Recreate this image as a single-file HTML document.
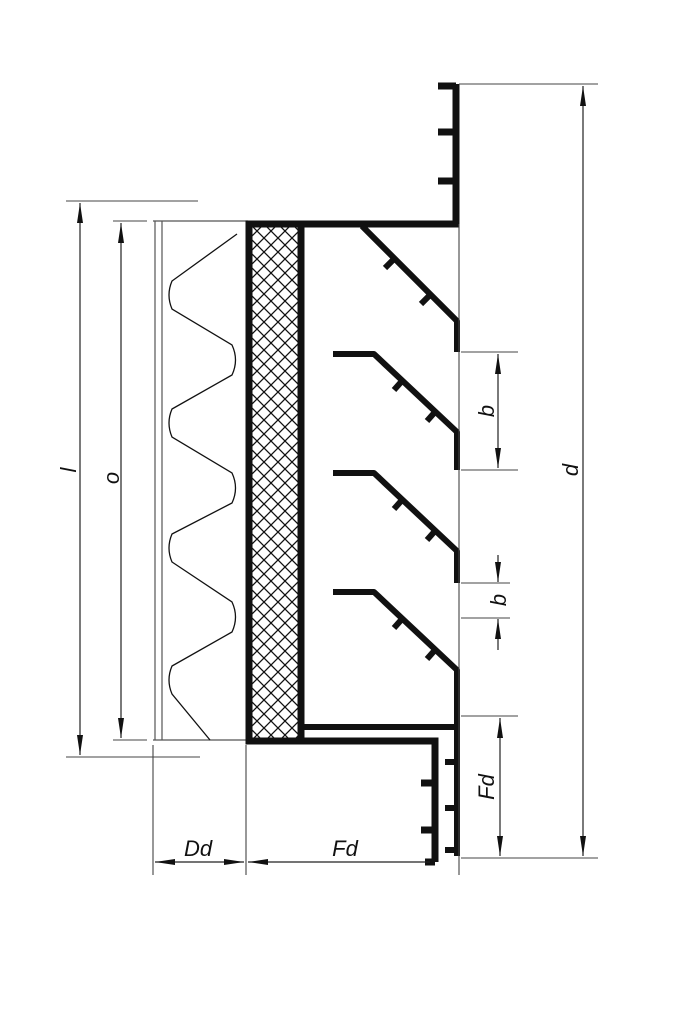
<!DOCTYPE html>
<html><head><meta charset="utf-8"><style>html,body{margin:0;padding:0;background:#fff}svg{display:block}</style></head>
<body>
<svg width="683" height="1024" viewBox="0 0 683 1024" xmlns="http://www.w3.org/2000/svg">
<defs>
<pattern id="h" width="14" height="14" patternUnits="userSpaceOnUse" x="250" y="224">
<path d="M0,0 L14,14 M14,0 L0,14" stroke="#111" stroke-width="1.3"/>
</pattern>
<marker id="a" viewBox="0 0 20 8" refX="20" refY="4" markerWidth="20" markerHeight="8" markerUnits="userSpaceOnUse" orient="auto-start-reverse">
<path d="M0,1 L20,4 L0,7 Z" fill="#111"/>
</marker>
</defs>
<g fill="none" stroke="#111">
<!-- hatched panel -->
<rect x="251" y="225" width="50" height="515" fill="url(#h)" stroke="none"/>
<!-- filter -->
<g stroke="#555" stroke-width="1.2">
<line x1="155" y1="221" x2="155" y2="740"/>
<line x1="162" y1="221" x2="162" y2="740"/>
<line x1="153" y1="221" x2="248" y2="221"/>
<line x1="153" y1="740" x2="248" y2="740"/>
</g>
<path stroke-width="1.3" d="M237,234 L172,281 Q166,295 172,309 L232,345 Q239,360 232,375 L172,409 Q166,423 172,437 L232,473 Q239,488 232,503 L172,534 Q166,548 172,562 L232,602 Q239,617 232,632 L172,666 Q166,680 172,694 L210,740"/>
<!-- thick frame -->
<g stroke-width="7" stroke-linecap="square">
<line x1="249" y1="224" x2="249" y2="741"/>
<line x1="301" y1="224" x2="301" y2="741"/>
<polyline points="249,224 456,224 456,84" stroke-linecap="butt"/>
<polyline points="249,741 435,741 435,862" stroke-linecap="butt"/>
<line x1="438" y1="86" x2="456" y2="86" stroke-linecap="butt"/>
<line x1="438" y1="132" x2="453" y2="132" stroke-linecap="butt"/>
<line x1="438" y1="181" x2="453" y2="181" stroke-linecap="butt"/>
<line x1="425" y1="862" x2="435" y2="862" stroke-linecap="butt"/>
<line x1="421" y1="783" x2="433" y2="783" stroke-linecap="butt"/>
<line x1="421" y1="830" x2="433" y2="830" stroke-linecap="butt"/>
</g>
<g stroke-width="6">
<line x1="301" y1="727" x2="460" y2="727"/>
<polyline points="457,670 457,856"/>
<line x1="445" y1="762" x2="457" y2="762"/>
<line x1="445" y1="808" x2="457" y2="808"/>
<line x1="445" y1="850" x2="457" y2="850"/>
</g>
<!-- louvers -->
<g stroke-width="6" stroke-linejoin="round">
<polyline points="362,226 457,321 457,352"/>
<polyline points="333,354 374,354 457,432 457,470"/>
<polyline points="333,473 374,473 457,551 457,583"/>
<polyline points="333,592 374,592 457,670 457,700"/>
</g>
<g stroke-width="6">
<line x1="394" y1="259" x2="385" y2="268"/><line x1="430" y1="295" x2="421" y2="304"/>
<line x1="402" y1="381" x2="394" y2="390"/><line x1="435" y1="412" x2="427" y2="421"/>
<line x1="402" y1="500" x2="394" y2="509"/><line x1="435" y1="531" x2="427" y2="540"/>
<line x1="402" y1="619" x2="394" y2="628"/><line x1="435" y1="650" x2="427" y2="659"/>
</g>
<!-- dimension lines -->
<g stroke="#444" stroke-width="1.1">
<line x1="459" y1="224" x2="459" y2="875"/>
<line x1="459" y1="84" x2="598" y2="84"/>
<line x1="461" y1="858" x2="598" y2="858"/>
<line x1="461" y1="352" x2="518" y2="352"/>
<line x1="461" y1="470" x2="518" y2="470"/>
<line x1="461" y1="583" x2="510" y2="583"/>
<line x1="461" y1="618" x2="510" y2="618"/>
<line x1="461" y1="716" x2="518" y2="716"/>
<line x1="66" y1="201" x2="198" y2="201"/>
<line x1="66" y1="757" x2="200" y2="757"/>
<line x1="113" y1="221" x2="147" y2="221"/>
<line x1="113" y1="740" x2="147" y2="740"/>
<line x1="153" y1="745" x2="153" y2="875"/>
<line x1="246" y1="745" x2="246" y2="875"/>
</g>
<g stroke="#222" stroke-width="1.2">
<line x1="583" y1="86" x2="583" y2="856" marker-start="url(#a)" marker-end="url(#a)"/>
<line x1="498" y1="354" x2="498" y2="468" marker-start="url(#a)" marker-end="url(#a)"/>
<line x1="498" y1="555" x2="498" y2="582" marker-end="url(#a)"/>
<line x1="498" y1="650" x2="498" y2="619" marker-end="url(#a)"/>
<line x1="500" y1="718" x2="500" y2="856" marker-start="url(#a)" marker-end="url(#a)"/>
<line x1="80" y1="203" x2="80" y2="755" marker-start="url(#a)" marker-end="url(#a)"/>
<line x1="121" y1="223" x2="121" y2="738" marker-start="url(#a)" marker-end="url(#a)"/>
<line x1="155" y1="862" x2="244" y2="862" marker-start="url(#a)" marker-end="url(#a)"/>
<line x1="248" y1="862" x2="430" y2="862" marker-start="url(#a)"/>
</g>
</g>
<g font-family="Liberation Sans, sans-serif" font-style="italic" font-size="22" fill="#111" text-anchor="middle">
<text x="198" y="856">Dd</text>
<text x="345" y="856">Fd</text>
<text transform="translate(578,470) rotate(-90)">d</text>
<text transform="translate(494,411) rotate(-90)">b</text>
<text transform="translate(506,600) rotate(-90)">b</text>
<text transform="translate(494,787) rotate(-90)">Fd</text>
<text transform="translate(76,470) rotate(-90)">l</text>
<text transform="translate(119,478) rotate(-90)">o</text>
</g>
</svg>
</body></html>
